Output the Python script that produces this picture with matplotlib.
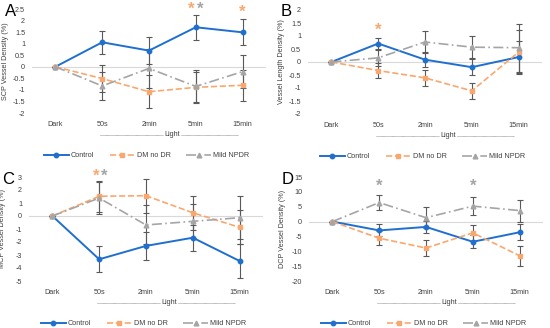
import matplotlib.pyplot as plt
from matplotlib.lines import Line2D

plt.rcParams['font.family'] = ['Liberation Sans', 'DejaVu Sans']

times = ['Dark', '50s', '2min', '5min', '15min']
series = ['Control', 'DM no DR', 'Mild NPDR']

# panel A: SCP vessel density
a_ctrl = [0, 1.06, 0.70, 1.71, 1.49]
a_ctrl_err = [0, 0.49, 0.60, 0.53, 0.56]
a_dm = [0, -0.51, -1.08, -0.89, -0.80]
a_dm_err = [0, 0.60, 0.72, 0.65, 0.67]
a_mild = [0, -0.83, -0.07, -0.85, -0.21]
a_mild_err = [0, 0.60, 0.85, 0.70, 0.72]

# panel B: vessel length density
b_ctrl = [0, 0.71, 0.09, -0.20, 0.19]
b_ctrl_err = [0, 0.20, 0.30, 0.30, 0.60]
b_dm = [0, -0.33, -0.61, -1.11, 0.38]
b_dm_err = [0, 0.30, 0.30, 0.32, 0.85]
b_mild = [0, 0.16, 0.77, 0.57, 0.55]
b_mild_err = [0, 0.30, 0.42, 0.42, 0.93]

# panel C: MCP vessel density
c_ctrl = [0, -3.33, -2.30, -1.67, -3.46]
c_ctrl_err = [0, 1.0, 1.05, 1.0, 1.3]
c_dm = [0, 1.52, 1.56, 0.25, -0.87]
c_dm_err = [0, 1.2, 1.3, 1.3, 1.3]
c_mild = [0, 1.38, -0.69, -0.41, -0.13]
c_mild_err = [0, 1.2, 1.5, 1.3, 1.65]

# panel D: DCP vessel density
d_ctrl = [0, -2.98, -1.80, -6.80, -3.60]
d_ctrl_err = [0, 2.0, 2.0, 2.2, 2.7]
d_dm = [0, -5.6, -8.9, -3.8, -11.5]
d_dm_err = [0, 2.4, 2.8, 2.6, 3.3]
d_mild = [0, 6.4, 1.3, 5.2, 3.7]
d_mild_err = [0, 2.6, 3.6, 3.1, 3.7]

blue = '#1F6FCF'
orange = '#F8A86E'
gray = '#A5A5A5'
errc = '#595959'
txt = '#404040'

panels = [
    dict(letter='A', rect=[32, 9], ylab='SCP Vessel Density (%)', ylim=(-2, 2.5), step=0.5,
         data=[(a_ctrl, a_ctrl_err), (a_dm, a_dm_err), (a_mild, a_mild_err)],
         stars=[(2.91, 2.47, orange), (3.09, 2.47, gray), (4.0, 2.38, orange)]),
    dict(letter='B', rect=[308, 10], ylab='Vessel Length Density (%)', ylim=(-2, 2), step=0.5,
         data=[(b_ctrl, b_ctrl_err), (b_dm, b_dm_err), (b_mild, b_mild_err)],
         stars=[(1.0, 1.22, orange)]),
    dict(letter='C', rect=[29, 177], ylab='MCP Vessel Density (%)', ylim=(-5, 3), step=1,
         data=[(c_ctrl, c_ctrl_err), (c_dm, c_dm_err), (c_mild, c_mild_err)],
         stars=[(0.93, 3.05, orange), (1.1, 3.05, gray)]),
    dict(letter='D', rect=[309, 177], ylab='DCP Vessel Density (%)', ylim=(-20, 15), step=5,
         data=[(d_ctrl, d_ctrl_err), (d_dm, d_dm_err), (d_mild, d_mild_err)],
         stars=[(1.0, 12.0, gray), (3.0, 12.0, gray)]),
]

styles = [
    dict(color=blue, ls='-', marker='o', ms=3.2, lw=1.4),
    dict(color=orange, ls='--', marker='s', ms=3.4, lw=1.2),
    dict(color=gray, ls=(0, (6, 2, 1, 2)), marker='^', ms=3.4, lw=1.2),
]

W, H = 550, 328
fig = plt.figure(figsize=(5.5, 3.28), dpi=100)
x = list(range(len(times)))

for p in panels:
    px, py = p['rect']
    ax = fig.add_axes([px / W, 1 - (py + 104) / H, 234 / W, 104 / H])
    ax.axhline(0, color='#D9D9D9', lw=0.8, zorder=0)
    for (vals, errs), st in zip(p['data'], styles):
        ax.errorbar(x, vals, yerr=errs, color=st['color'], ls=st['ls'], lw=st['lw'],
                    marker=st['marker'], ms=st['ms'], ecolor=errc, elinewidth=0.8,
                    capsize=2, capthick=0.8)
    for sx, sy, sc in p['stars']:
        ax.text(sx, sy, '*', color=sc, fontsize=12, ha='center', va='center',
                fontweight='bold')
    lo, hi = p['ylim']
    ax.set_ylim(lo, hi)
    ax.set_xlim(-0.5, 4.5)
    ticks = []
    v = lo
    while v <= hi + 1e-9:
        ticks.append(round(v, 2))
        v += p['step']
    ax.set_yticks(ticks)
    ax.set_yticklabels([('%g' % t) for t in ticks], fontsize=5.2, color=txt)
    ax.set_xticks(x)
    ax.set_xticklabels(times, fontsize=5.2, color=txt)
    ax.tick_params(length=0, axis='y', pad=5)
    ax.tick_params(length=0, axis='x', pad=6)
    for s in ax.spines.values():
        s.set_visible(False)
    ax.set_ylabel(p['ylab'], fontsize=5.2, color=txt)
    ax.yaxis.set_label_coords(-23 / 234, 0.5)
    fig.text((px - 27) / W, 1 - (py + 2) / H, p['letter'], fontsize=12,
             ha='left', va='center')
    # light bracket
    tr = ax.get_xaxis_transform()
    ax.plot([0.95, 2.3], [-0.21, -0.21], transform=tr, color='#7F7F7F', lw=0.5,
            ls=(0, (1, 0.6)), clip_on=False)
    ax.plot([2.68, 3.9], [-0.21, -0.21], transform=tr, color='#7F7F7F', lw=0.5,
            ls=(0, (1, 0.6)), clip_on=False)
    ax.text(2.49, -0.21, 'Light', transform=tr, fontsize=5.2, color=txt,
            ha='center', va='center')
    handles = [Line2D([0], [0], color=st['color'], ls=st['ls'], lw=st['lw'],
                      marker=st['marker'], ms=st['ms']) for st in styles]
    ax.legend(handles, series, loc='center', bbox_to_anchor=(0.49, -0.41), ncol=3,
              frameon=False, fontsize=5.2, handlelength=3.4, columnspacing=2.2,
              handletextpad=0.3, labelcolor=txt, numpoints=1)

fig.savefig('out.png', dpi=100, facecolor='white')
